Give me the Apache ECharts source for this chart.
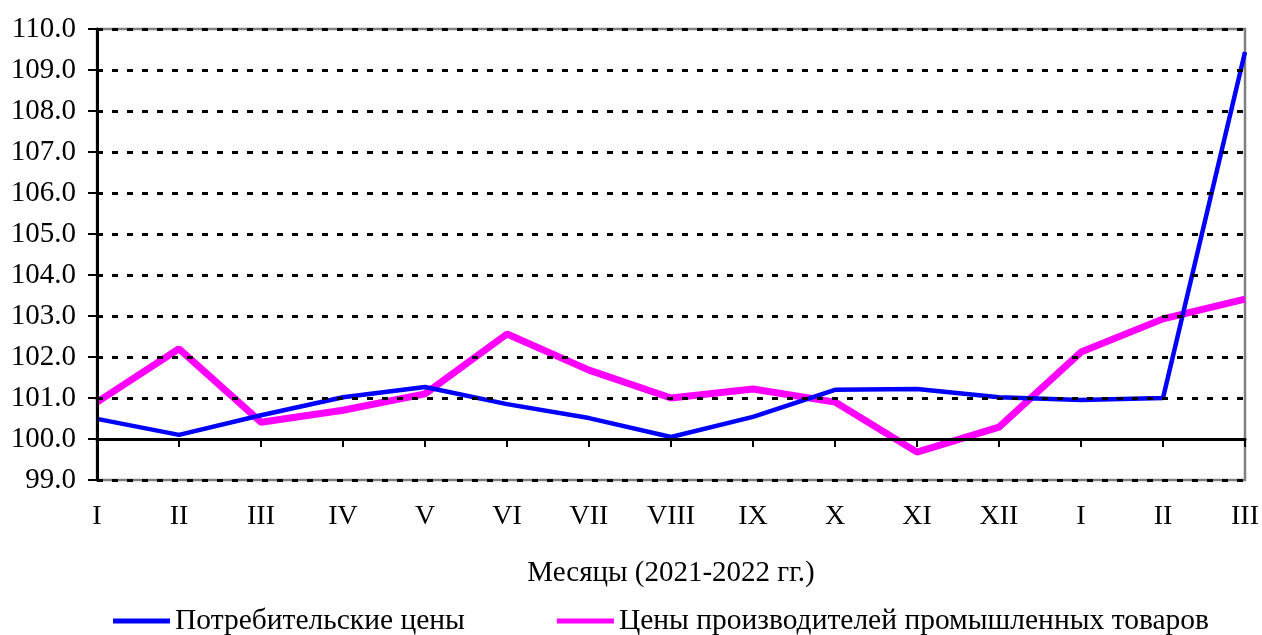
<!DOCTYPE html>
<html>
<head>
<meta charset="utf-8">
<script src="https://cdn.jsdelivr.net/npm/echarts@6/dist/echarts.min.js"></script>
<style>
  html, body { margin: 0; padding: 0; background: #fff; }
  #main { width: 1262px; height: 635px; }
</style>
</head>
<body>
<div id="main"></div>
<script>
var months = ['I', 'II', 'III', 'IV', 'V', 'VI', 'VII', 'VIII', 'IX', 'X', 'XI', 'XII', 'I', 'II', 'III'];
var consumer = [100.49, 100.1, 100.58, 101.02, 101.27, 100.85, 100.51, 100.05, 100.54, 101.2, 101.22, 101.02, 100.95, 101.0, 109.44];
var producer = [100.9, 102.2, 100.41, 100.7, 101.1, 102.56, 101.68, 101.0, 101.22, 100.9, 99.68, 100.29, 102.12, 102.93, 103.41];

var FONT = '"Liberation Serif", "DejaVu Serif", serif';

var dom = document.getElementById('main');
var myChart = echarts.init(dom);

var option = {
    animation: false,
    textStyle: { fontFamily: FONT },
    grid: {
        left: 97, right: 15, top: 29, bottom: 155,
        show: true,
        borderColor: '#808080',
        borderWidth: 2.5
    },
    legend: {
        left: 108,
        bottom: -6,
        icon: 'rect',
        itemWidth: 57,
        itemHeight: 5,
        itemGap: 92,
        textStyle: { fontFamily: FONT, fontSize: 29.5, color: '#000' },
        data: ['Потребительские цены', 'Цены производителей промышленных товаров']
    },
    xAxis: {
        type: 'category',
        data: months,
        boundaryGap: false,
        offset: -41,
        z: 5,
        axisLine: { lineStyle: { color: '#000', width: 3 } },
        axisTick: { show: true, length: 8, lineStyle: { color: '#000', width: 2 } },
        axisLabel: { margin: 64, fontFamily: FONT, fontSize: 28, color: '#000' },
        name: 'Месяцы (2021-2022 гг.)',
        nameLocation: 'middle',
        nameGap: 120,
        nameTextStyle: { fontFamily: FONT, fontSize: 29, color: '#000' },
        splitLine: { show: false }
    },
    yAxis: {
        type: 'value',
        min: 99,
        max: 110,
        interval: 1,
        z: 5,
        axisLine: { show: true, lineStyle: { color: '#000', width: 3 } },
        axisTick: { show: true, length: 9, lineStyle: { color: '#000', width: 2 } },
        axisLabel: {
            margin: 21,
            fontFamily: FONT, fontSize: 29, color: '#000',
            formatter: function (v) { return v.toFixed(1); }
        },
        splitLine: {
            show: true,
            lineStyle: { color: '#000', width: 3, type: [6, 9] }
        }
    },
    series: [
        {
            name: 'Потребительские цены',
            type: 'line',
            data: consumer,
            symbol: 'none',
            z: 3,
            itemStyle: { color: '#0000FF' },
            lineStyle: { color: '#0000FF', width: 4.5 }
        },
        {
            name: 'Цены производителей промышленных товаров',
            type: 'line',
            data: producer,
            symbol: 'none',
            z: 2,
            itemStyle: { color: '#FF00FF' },
            lineStyle: { color: '#FF00FF', width: 7 }
        }
    ]
};

myChart.setOption(option);
</script>
</body>
</html>
